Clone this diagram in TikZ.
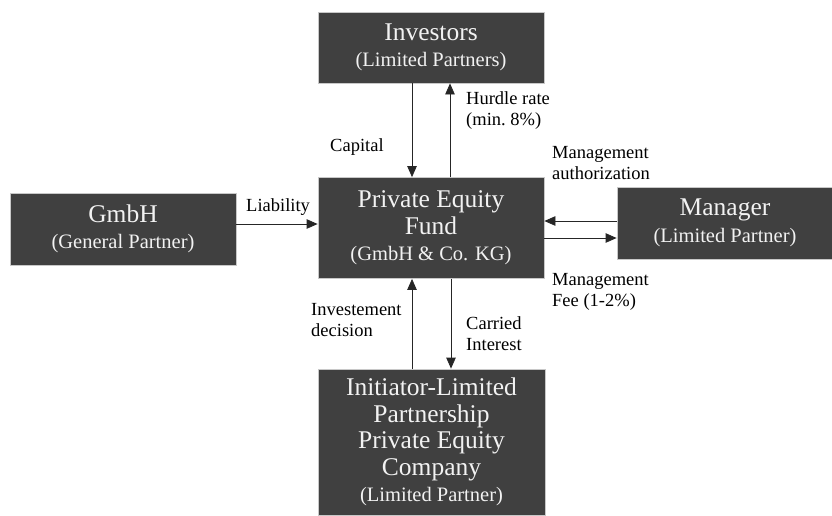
\documentclass[tikz,border=0pt]{standalone}
\usepackage{fontspec}
\setmainfont{Liberation Serif}
\usetikzlibrary{arrows.meta, positioning}
\definecolor{boxgray}{RGB}{64, 64, 64}
\definecolor{boxtext}{RGB}{242, 242, 242}
\definecolor{boxline}{RGB}{200, 200, 200}
\newcommand{\partnerrole}[1]{{\fontsize{20.5}{26.5}\selectfont #1}}

\begin{document}
\begin{tikzpicture}[x=1pt, y=-1pt,
    party/.style={draw=boxline, line width=0.8pt, fill=boxgray, text=boxtext,
        align=center, inner sep=0pt, font=\fontsize{25.5}{26.5}\selectfont},
    flow/.style={-{Triangle[length=11pt,width=9.5pt]}, line width=0.8pt, draw=black!85},
    lbl/.style={anchor=west, align=left, inner sep=0pt, font=\fontsize{18.5}{21}\selectfont}]
                    \useasboundingbox (0,0) rectangle (832,515);
                    % parties
                    \node[party, minimum width=226pt, minimum height=71pt] (inv) at (431,47.5) {Investors\\\partnerrole{(Limited Partners)}};
                    \node[party, minimum width=226pt, minimum height=101pt] (fund) at (431,228) {Private Equity\\Fund\\\partnerrole{(GmbH \& Co. KG)}};
                    \node[party, minimum width=226pt, minimum height=72pt] (gmbh) at (123,229) {GmbH\\\partnerrole{(General Partner)}};
                    \node[party, minimum width=216pt, minimum height=72pt] (man) at (725,223) {Manager\\\partnerrole{(Limited Partner)}};
                    \node[party, minimum width=227pt, minimum height=146pt] (init) at (431.5,442) {Initiator-Limited\\Partnership\\Private Equity\\Company\\\partnerrole{(Limited Partner)}};
                    % flows
                    \draw[flow] ([xshift=-19pt]inv.south) -- ([xshift=-19pt]inv.south |- fund.north);
                    \draw[flow] ([xshift=19pt]inv.south |- fund.north) -- ([xshift=19pt]inv.south);
                    \draw[flow] ([yshift=5pt]gmbh.east) -- ([yshift=5pt]gmbh.east -| fund.west);
                    \draw[flow] ([yshift=2pt]man.west) -- ([yshift=2pt]man.west -| fund.east);
                    \draw[flow] ([yshift=-15pt]man.west -| fund.east) -- ([yshift=-15pt]man.west);
                    \draw[flow] ([xshift=-19.5pt]init.north) -- ([xshift=-19.5pt]init.north |- fund.south);
                    \draw[flow] ([xshift=19.5pt]init.north |- fund.south) -- ([xshift=19.5pt]init.north);
                    % labels
                    \node[lbl] (capital) at (330,147) {Capital};
                    \node[lbl] (hurdle) at (466,110.5) {Hurdle rate\\(min.\ 8\%)};
                    \node[lbl] (mauth) at (552,163) {Management\\authorization};
                    \node[lbl] (mfee) at (552,292) {Management\\Fee (1-2\%)};
                    \node[lbl] (liab) at (246,207) {Liability};
                    \node[lbl] (invdec) at (311,320) {Investement\\decision};
                    \node[lbl] (carried) at (466,334) {Carried\\Interest};
                \end{tikzpicture}
\end{document}
